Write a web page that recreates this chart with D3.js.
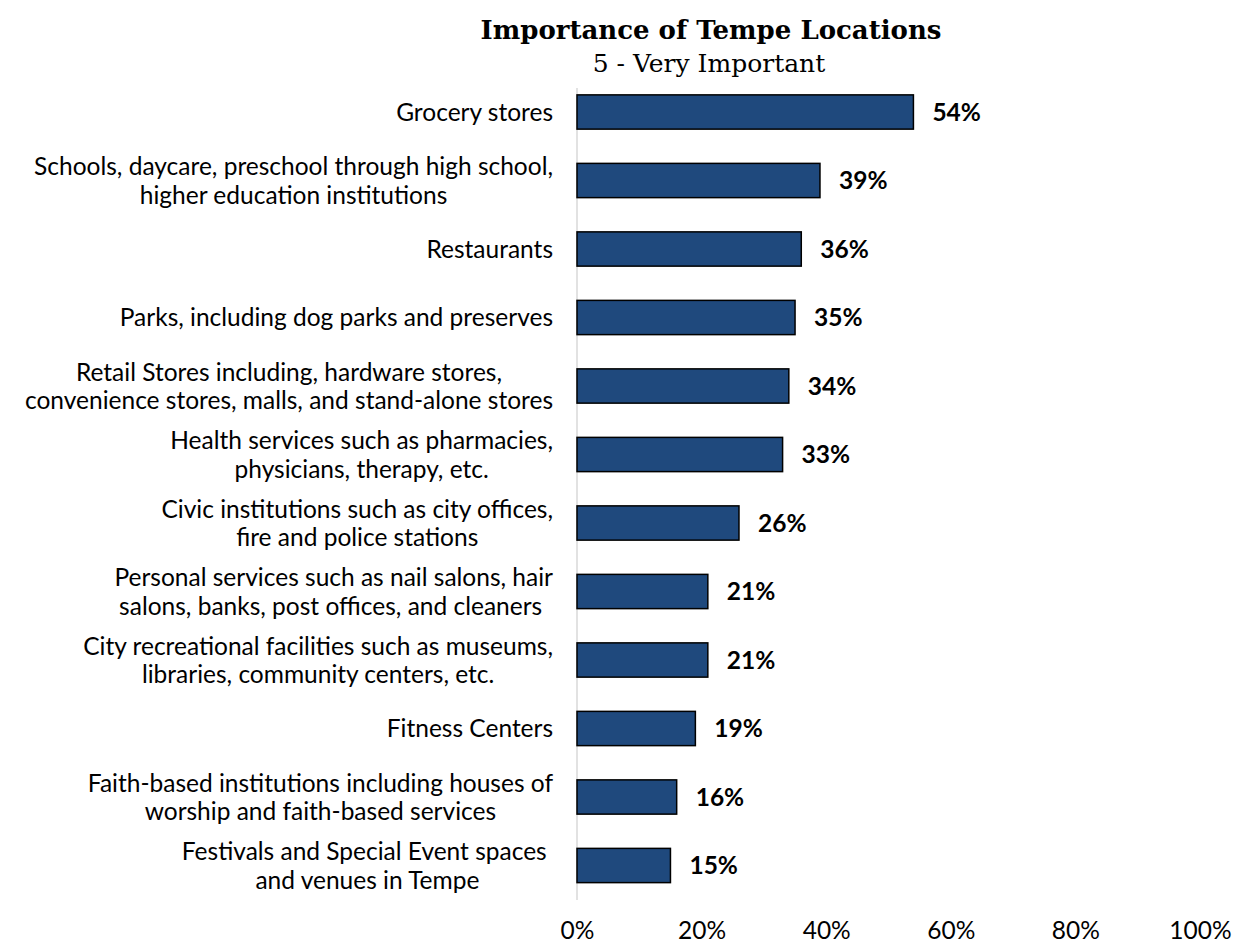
<!DOCTYPE html>
<html>
<head>
<meta charset="utf-8">
<script src="https://cdn.jsdelivr.net/npm/d3@7"></script>
<style>
  html, body { margin: 0; padding: 0; background: #fff; }
  svg text { white-space: pre; }
</style>
</head>
<body>
<svg id="chart" width="1233" height="948"></svg>
<script>
const titleText = "Importance of Tempe Locations";
const subtitleText = "5 - Very Important";
const categories = [
  ["Grocery stores"],
  ["Schools, daycare, preschool through high school,", "higher education institutions"],
  ["Restaurants"],
  ["Parks, including dog parks and preserves"],
  ["Retail Stores including, hardware stores,", "convenience stores, malls, and stand-alone stores"],
  ["Health services such as pharmacies,", "physicians, therapy, etc."],
  ["Civic institutions such as city offices,", "fire and police stations"],
  ["Personal services such as nail salons, hair", "salons, banks, post offices, and cleaners "],
  ["City recreational facilities such as museums,", "libraries, community centers, etc."],
  ["Fitness Centers"],
  ["Faith-based institutions including houses of", "worship and faith-based services"],
  ["Festivals and Special Event spaces ", "and venues in Tempe"]
];
const values = [0.54, 0.39, 0.36, 0.35, 0.34, 0.33, 0.26, 0.21, 0.21, 0.19, 0.16, 0.15];
const xTicks = [0, 0.2, 0.4, 0.6, 0.8, 1.0];

const svg = d3.select("#chart");
const labelFont = "Lato, 'Open Sans', sans-serif";

const x = d3.scaleLinear().domain([0, 1]).range([577, 1200]);
const y = d3.scaleBand()
  .domain(d3.range(categories.length))
  .range([77.75, 899.75])
  .paddingInner(0.5)
  .paddingOuter(0.25);

// Title
svg.append("text")
  .attr("x", 711).attr("y", 39)
  .attr("text-anchor", "middle")
  .attr("font-family", "'DejaVu Serif', serif")
  .attr("font-weight", "bold")
  .attr("font-size", 26)
  .attr("fill", "#000")
  .text(titleText);

svg.append("text")
  .attr("x", 709).attr("y", 72)
  .attr("text-anchor", "middle")
  .attr("font-family", "'DejaVu Serif', serif")
  .attr("font-size", 25)
  .attr("fill", "#000")
  .text(subtitleText);

// Vertical axis line
svg.append("line")
  .attr("x1", x(0)).attr("x2", x(0))
  .attr("y1", 88).attr("y2", 900)
  .attr("stroke", "#d9d9d9")
  .attr("stroke-width", 1.5);

// Bars
svg.append("g").selectAll("rect")
  .data(values)
  .join("rect")
  .attr("x", x(0))
  .attr("y", (d, i) => y(i))
  .attr("width", d => x(d) - x(0))
  .attr("height", y.bandwidth())
  .attr("fill", "#1f497d")
  .attr("stroke", "#000")
  .attr("stroke-width", 1.5);

// Value labels
svg.append("g").selectAll("text")
  .data(values)
  .join("text")
  .attr("x", d => x(d) + 19)
  .attr("y", (d, i) => y(i) + y.bandwidth() / 2)
  .attr("dy", "0.36em")
  .attr("font-family", labelFont)
  .attr("font-weight", "bold")
  .attr("font-size", 24.5)
  .attr("fill", "#000")
  .text(d => d3.format(".0%")(d));

// Category labels: block right-aligned, lines centered within block
const lineH = 28.5;
const labelRight = 553;
const lg = svg.append("g");
categories.forEach((lines, i) => {
  const cy = y(i) + y.bandwidth() / 2;
  const g = lg.append("g");
  const texts = lines.map((ln, k) => g.append("text")
    .attr("y", cy + (k - (lines.length - 1) / 2) * lineH)
    .attr("dy", "0.36em")
    .attr("text-anchor", "middle")
    .attr("font-family", labelFont)
    .attr("font-size", 24.5)
    .attr("fill", "#000")
    .text(ln));
  const widths = texts.map(t => t.node().getComputedTextLength());
  const w = d3.max(widths);
  texts.forEach(t => t.attr("x", labelRight - w / 2));
});

// X axis
const xAxis = d3.axisBottom(x)
  .tickValues(xTicks)
  .tickSize(0)
  .tickPadding(0)
  .tickFormat(d3.format(".0%"));
const ax = svg.append("g")
  .attr("transform", "translate(0,922)")
  .call(xAxis);
ax.select(".domain").remove();
ax.selectAll("text")
  .attr("font-family", labelFont)
  .attr("font-size", 24.5)
  .attr("fill", "#000");
</script>
</body>
</html>
